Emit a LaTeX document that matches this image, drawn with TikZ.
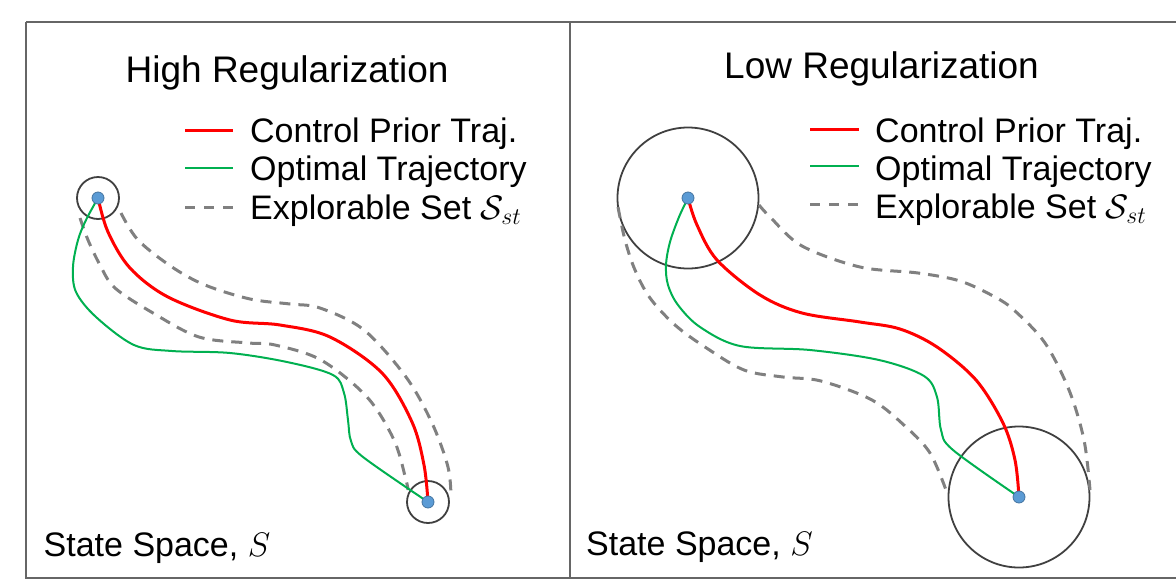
\RequirePackage{fix-cm}
\documentclass[tikz,border=0pt]{standalone}
\usepackage{fontspec}
\setmainfont{Liberation Sans}
\begin{document}
\begin{tikzpicture}[x=1pt,y=-1pt,
  frame/.style={draw=black!60, line width=2.5pt},
  title/.style={anchor=base west, inner sep=0pt, font=\fontsize{37}{42}\selectfont},
  label/.style={anchor=base west, inner sep=0pt, font=\fontsize{34}{38}\selectfont},
  dot/.style={circle, minimum size=12pt, inner sep=0pt, line width=0.8pt},
  ring/.style={circle, draw=black!75, line width=1.8pt, inner sep=0pt},
  prior/.style={draw=red, line width=3pt},
  optimal/.style={line width=2pt},
  explore/.style={draw=black!50, line width=3pt, dash pattern=on 11pt off 8pt},
]
\definecolor{dotblue}{HTML}{5B9BD5}
\definecolor{optgreen}{HTML}{00B050}
\tikzset{dot/.append style={fill=dotblue, draw=dotblue!75!black}, optimal/.append style={draw=optgreen}}
\useasboundingbox (0,0) rectangle (1176,579);

% panel frames
\draw[frame] (26,22) -- (1178,22);
\draw[frame] (26,22) -- (26,578) -- (1178,578);
\draw[frame] (570,22) -- (570,578);

% ---------- left panel: high regularization ----------
\node[title] (t1) at (125.5,82) {High Regularization};
\node[label] (l1a) at (250,142) {Control Prior Traj.};
\node[label] (l1b) at (250,180) {Optimal Trajectory};
\node[label] (l1c) at (250,219) {Explorable Set $\mathcal{S}_{st}$};
\coordinate (k1a) at (185,130); \coordinate (k1a') at (233,130);
\coordinate (k1b) at (185,168); \coordinate (k1b') at (233,168);
\coordinate (k1c) at (185,207); \coordinate (k1c') at (233,207);
\draw[prior] (k1a) -- (k1a');
\draw[optimal] (k1b) -- (k1b');
\draw[explore, dash pattern=on 10pt off 9pt] (k1c) -- (k1c');
\node[label] (s1) at (43.5,556) {State Space, $S$};

\node[ring, minimum size=42pt] (r1a) at (98,198) {};
\node[ring, minimum size=42pt] (r1b) at (428,502) {};

\draw[explore] plot[smooth, tension=0.55] coordinates {(121,213) (138,240) (172,267) (205,285) (250,299) (290,304) (320,308) (364,330) (406,377) (432,423) (448,467) (451,497)};
\draw[explore] plot[smooth, tension=0.55] coordinates {(80,218) (88,240) (100,265) (115,288) (153,313) (199,337) (249,343) (275,345) (321,360) (367,397) (394,440) (406,480) (408,490)};
\draw[optimal] plot[smooth, tension=0.55] coordinates {(r1a.center) (86,220) (78,240) (73,267) (76,292) (96,317) (134,345) (172,351) (230,353) (287,362) (333,375) (344,393) (348,420) (351,441) (363,457) (r1b.center)};
\draw[prior] plot[smooth, tension=0.55] coordinates {(r1a.center) (108,232) (130,268) (168,297) (230,320) (280,325) (330,337) (382,373) (412,422) (424,465) (r1b.center)};

\node[dot] (d1a) at (r1a.center) {};
\node[dot] (d1b) at (r1b.center) {};

% ---------- right panel: low regularization ----------
\node[title] (t2) at (724,78) {Low Regularization};
\node[label] (l2a) at (875,142) {Control Prior Traj.};
\node[label] (l2b) at (875,180) {Optimal Trajectory};
\node[label] (l2c) at (875,218) {Explorable Set $\mathcal{S}_{st}$};
\coordinate (k2a) at (810,129); \coordinate (k2a') at (859,129);
\coordinate (k2b) at (810,166); \coordinate (k2b') at (859,166);
\coordinate (k2c) at (810,204); \coordinate (k2c') at (859,204);
\draw[prior] (k2a) -- (k2a');
\draw[optimal] (k2b) -- (k2b');
\draw[explore, dash pattern=on 10pt off 9pt] (k2c) -- (k2c');
\node[label] (s2) at (586,555) {State Space, $S$};

\node[ring, minimum size=141pt] (r2a) at (688,198) {};
\node[ring, minimum size=141pt] (r2b) at (1019,497) {};

\draw[explore] plot[smooth, tension=0.55] coordinates {(759,205) (771,218) (802,246) (860,267) (918,273) (960,281) (995,297) (1015,311) (1045,343) (1069,390) (1084,440) (1090,490)};
\draw[explore] plot[smooth, tension=0.55] coordinates {(618,207) (625,240) (635,270) (650,298) (675,325) (705,347) (744,370) (783,377) (821,381) (872,400) (906,427) (930,453) (946,490)};
\draw[optimal] plot[smooth, tension=0.55] coordinates {(r2a.center) (679,217) (670,242) (666,265) (668,285) (678,305) (700,327) (740,346) (810,350) (879,360) (924,376) (937,397) (941,430) (953,450) (r2b.center)};
\draw[prior] plot[smooth, tension=0.55] coordinates {(r2a.center) (697,225) (717,260) (760,295) (802,313) (860,322) (900,329) (937,347) (976,380) (1003,423) (1015,460) (r2b.center)};

\node[dot] (d2a) at (r2a.center) {};
\node[dot] (d2b) at (r2b.center) {};
\end{tikzpicture}
\end{document}
